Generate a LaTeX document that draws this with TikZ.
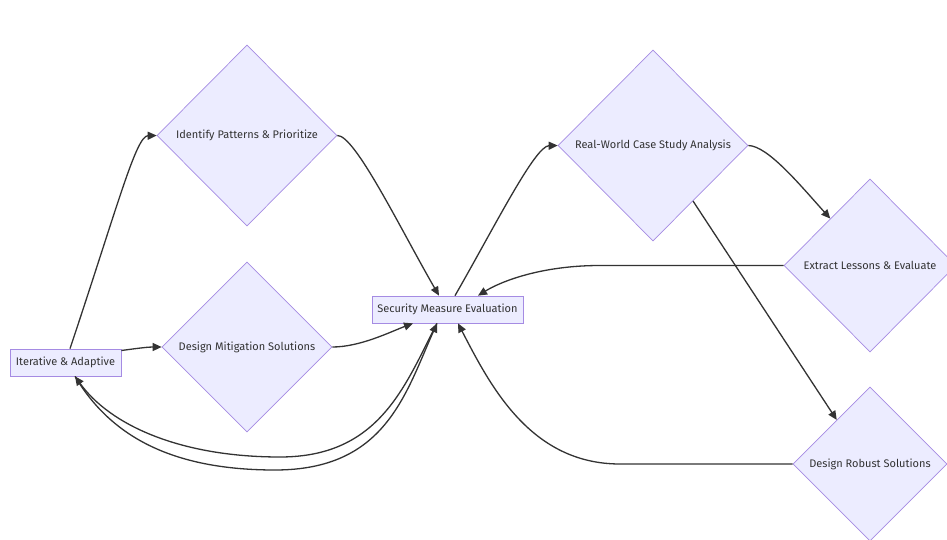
\documentclass[tikz,border=0pt]{standalone}
\usepackage{fontspec}
\setmainfont{Fira Sans}
\usetikzlibrary{shapes.geometric,arrows.meta,calc}
\definecolor{nodefill}{HTML}{ECECFF}
\definecolor{nodeborder}{HTML}{A58BE3}
\definecolor{edgecol}{HTML}{333333}
\begin{document}
\begin{tikzpicture}[x=1pt,y=-1pt,
  boxnode/.style={draw=nodeborder, fill=nodefill, line width=0.7pt, text=edgecol,
    font=\fontsize{11}{13}\selectfont, inner sep=0pt, rectangle},
  decision/.style={boxnode, shape=diamond, aspect=1},
  link/.style={draw=edgecol, line width=1.3pt, -{Triangle[length=9pt,width=8pt]}}]
\useasboundingbox (0,0) rectangle (947,540);
\clip (0,0) rectangle (947,540);
\fill[white] (0,0) rectangle (947,540);

\node[boxnode, minimum width=111pt, minimum height=27pt] (it) at (65.5,362.5) {Iterative \& Adaptive};
\node[decision, minimum width=180pt, minimum height=181pt] (id) at (247,135.5) {Identify Patterns \& Prioritize};
\node[decision, minimum width=170pt, minimum height=170pt] (dm) at (247,347) {Design Mitigation Solutions};
\node[boxnode, minimum width=151pt, minimum height=27pt] (sme) at (447.5,309.5) {Security Measure Evaluation};
\node[decision, minimum width=190pt, minimum height=191pt] (rw) at (653,145.5) {Real-World Case Study Analysis};
\node[decision, minimum width=172pt, minimum height=173pt] (ex) at (870,265.5) {Extract Lessons \& Evaluate};
\node[decision, minimum width=154pt, minimum height=154pt] (rb) at (870,464) {Design Robust Solutions};

\draw[link] ([xshift=4.5pt]it.north) .. controls (118,205) and (136,136) .. (id.west);
\draw[link] ([yshift=12pt]it.east) .. controls (140,348) and (148,347) .. (dm.west);
\draw[link] (id.east) .. controls (355,135) and (400,228) .. ([xshift=-8.5pt]sme.north);
\draw[link] (dm.east) .. controls (360,347) and (390,332) .. ([xshift=-34.5pt]sme.south);
\draw[link] ([xshift=7.5pt]sme.north) .. controls (495,226) and (535,146) .. (rw.west);
\draw[link] (rw.east) .. controls (768,146) and (800,185) .. ($(ex.north)!0.46!(ex.west)$);
\draw[link] ($(rw.south)!0.42!(rw.east)$) -- ($(rb.north)!0.43!(rb.west)$);
\draw[link] (ex.west) -- (600,265.5) .. controls (540,265.5) and (500,282) .. ([xshift=30.5pt]sme.north);
\draw[link] (rb.west) -- (620,464) .. controls (530,464) and (490,385) .. ([xshift=10.5pt]sme.south);
\draw[link] ([xshift=-10.5pt]sme.south) .. controls (405,385) and (380,457) .. (280,457) .. controls (180,457) and (110,425) .. ([xshift=9.5pt]it.south);
\draw[link] ([xshift=9.5pt]it.south) .. controls (110,435) and (170,470) .. (275,470) .. controls (385,470) and (405,395) .. ([xshift=-10.5pt]sme.south);
\end{tikzpicture}
\end{document}
